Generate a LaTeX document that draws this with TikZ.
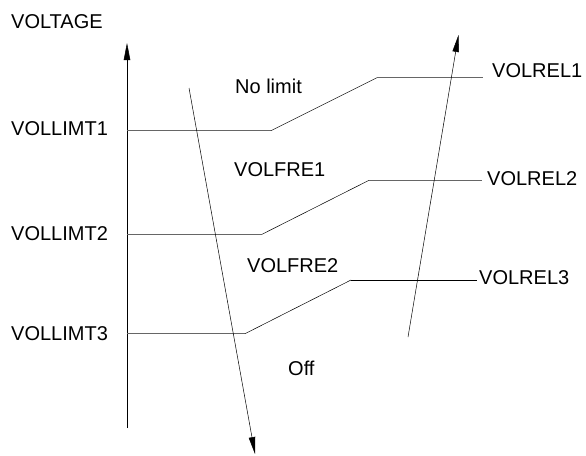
\documentclass[tikz,border=0pt]{standalone}
\usepackage{fontspec}
\setmainfont{Liberation Sans}
\usetikzlibrary{positioning,arrows.meta}

\begin{document}
\begin{tikzpicture}[x=1pt, y=-1pt,
        lbl/.style={font=\fontsize{20}{23}\selectfont, inner sep=0pt, anchor=west},
        lvl/.style={draw=black!60, line width=0.6pt},
        ramp/.style={draw, line width=0.5pt},
        dir/.style={draw, line width=0.5pt, -{Triangle[length=17pt, width=6.5pt]}},
    ]
        \useasboundingbox (0,0) rectangle (586,455);
        \node[lbl] (volt) at (11,22)  {VOLTAGE};
        \node[lbl] (lim1) at (11,129) {VOLLIMT1};
        \node[lbl] (lim2) at (11,234) {VOLLIMT2};
        \node[lbl] (lim3) at (11,334) {VOLLIMT3};
        \node[lbl] (rel1) at (492,71)  {VOLREL1};
        \node[lbl] (rel2) at (487,179) {VOLREL2};
        \node[lbl] (rel3) at (479,278) {VOLREL3};
        \node[lbl] (nolim) at (235,86)  {No limit};
        \node[lbl] (fre1)  at (234,170) {VOLFRE1};
        \node[lbl] (fre2)  at (247,266) {VOLFRE2};
        \node[lbl] (off)   at (288,368) {Off};
        \coordinate (ax0) at (127,428);
        \coordinate (ax1) at (127,43);
        \coordinate (a1) at (271,130.7);
        \coordinate (b1) at (377,77.7);
        \coordinate (a2) at (262,234.3);
        \coordinate (b2) at (369,180.3);
        \coordinate (a3) at (245,333.7);
        \coordinate (b3) at (351,280);
        \coordinate (dn0) at (189,88);
        \coordinate (dn1) at (255,454);
        \coordinate (up0) at (408,337);
        \coordinate (up1) at (458.5,35);
        \draw[dir] (ax0) -- (ax1);
        \draw[lvl] (ax0 |- a1) -- (a1);
        \draw[ramp] (a1) -- (b1);
        \draw[lvl] (b1) -- ([xshift=-9pt]rel1.west |- b1);
        \draw[lvl] (ax0 |- a2) -- (a2);
        \draw[ramp] (a2) -- (b2);
        \draw[lvl] (b2) -- ([xshift=-5pt]rel2.west |- b2);
        \draw[lvl] (ax0 |- a3) -- (a3);
        \draw[ramp] (a3) -- (b3);
        \draw[ramp] (b3) -- ([xshift=-2pt]rel3.west |- b3);
        \draw[dir] (dn0) -- (dn1);
        \draw[dir] (up0) -- (up1);
    \end{tikzpicture}
\end{document}
